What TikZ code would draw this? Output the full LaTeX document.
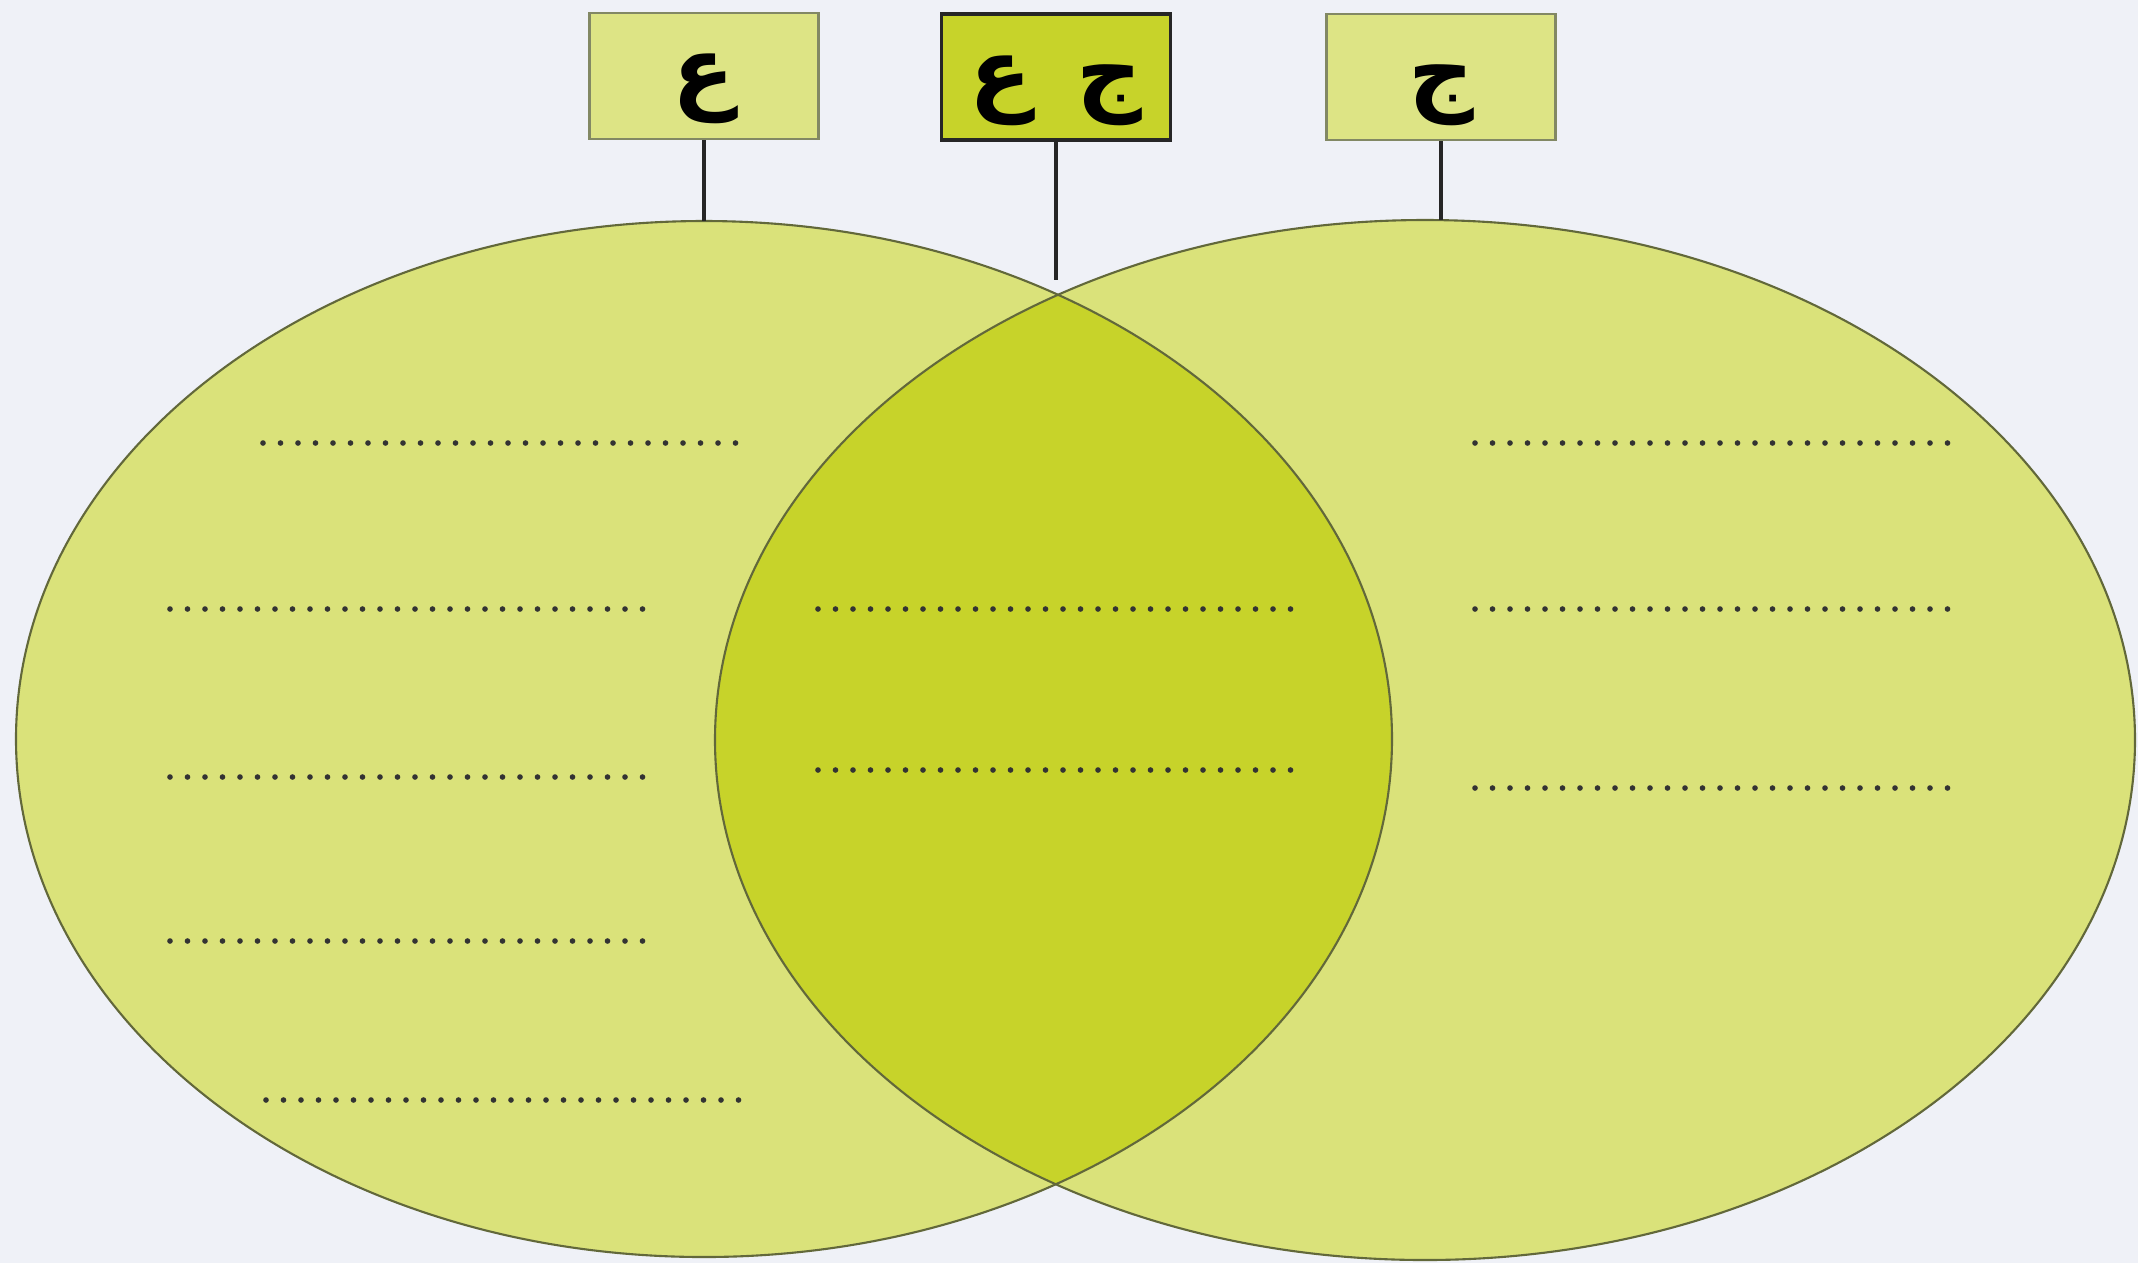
\documentclass[tikz,border=0pt]{standalone}
\usepackage{fontspec}
\usetikzlibrary{shapes.geometric,positioning}
\newfontfamily\arabicfont[Script=Arabic]{DejaVu Sans}
\TeXXeTstate=1
\definecolor{paper}{RGB}{239,241,247}
\definecolor{setfill}{RGB}{218,226,122}
\definecolor{meetfill}{RGB}{199,211,42}
\definecolor{setline}{RGB}{98,104,58}
\definecolor{tagline}{RGB}{130,136,100}
\newcommand{\letters}[1]{\raisebox{-0.26cm}[0pt][0pt]{\beginR #1\endR}}

\begin{document}
\begin{tikzpicture}[
  tag/.style={draw=tagline, line width=0.6pt, fill=setfill!92!white, minimum width=2.29cm,
    minimum height=1.26cm, inner sep=0pt, font=\arabicfont\bfseries\fontsize{26}{30}\selectfont},
  meettag/.style={tag, draw=black!85, line width=1.1pt, fill=meetfill},
  set/.style={ellipse, draw=setline, line width=0.6pt, inner sep=0pt, outer sep=0pt},
  stem/.style={draw=black!85, line width=0.9pt},
  blank/.style={draw=black!80, line width=1.6pt, line cap=round, dash pattern=on 0pt off 0.175cm}
]
  \useasboundingbox (0,0) rectangle (21.38,-12.63);
  \fill[paper] (0,0) rectangle (21.38,-12.63);

  % fills of the two sets and their overlap
  \fill[setfill] (7.04,-7.39) ellipse [x radius=6.88, y radius=5.18];
  \fill[setfill] (14.25,-7.40) ellipse [x radius=7.10, y radius=5.20];
  \begin{scope}
    \clip (7.04,-7.39) ellipse [x radius=6.88, y radius=5.18];
    \fill[meetfill] (14.25,-7.40) ellipse [x radius=7.10, y radius=5.20];
  \end{scope}

  % outlines
  \node[set, minimum width=13.76cm, minimum height=10.36cm] (setAin) at (7.04,-7.39) {};
  \node[set, minimum width=14.20cm, minimum height=10.40cm] (setJim) at (14.25,-7.40) {};

  % labels on top
  \node[tag, above=0.81cm of setAin.north] (tagAin) {\letters{ع}};
  \node[meettag] (tagBoth) at (10.56,-0.77) {\letters{ج\hspace{0.45cm}ع}};
  \node[tag] (tagJim) at (14.41,-0.77) {\letters{ج}};
  \coordinate (meetTop) at (tagBoth.south |- 0,-2.80);

  \draw[stem] (tagAin) -- (setAin);
  \draw[stem] (tagBoth) -- (meetTop);
  \draw[stem] (tagJim.south) -- (tagJim.south |- setJim.north);

  % blanks to fill in
  \draw[blank] (2.63,-4.43) -- (7.43,-4.43);
  \draw[blank] (1.70,-6.09) -- (6.52,-6.09);
  \draw[blank] (1.70,-7.77) -- (6.52,-7.77);
  \draw[blank] (1.70,-9.41) -- (6.52,-9.41);
  \draw[blank] (2.66,-11.00) -- (7.45,-11.00);
  \draw[blank] (8.18,-6.09) -- (12.99,-6.09);
  \draw[blank] (8.18,-7.70) -- (12.99,-7.70);
  \draw[blank] (14.75,-4.43) -- (19.57,-4.43);
  \draw[blank] (14.75,-6.09) -- (19.57,-6.09);
  \draw[blank] (14.75,-7.88) -- (19.57,-7.88);
\end{tikzpicture}
\end{document}
